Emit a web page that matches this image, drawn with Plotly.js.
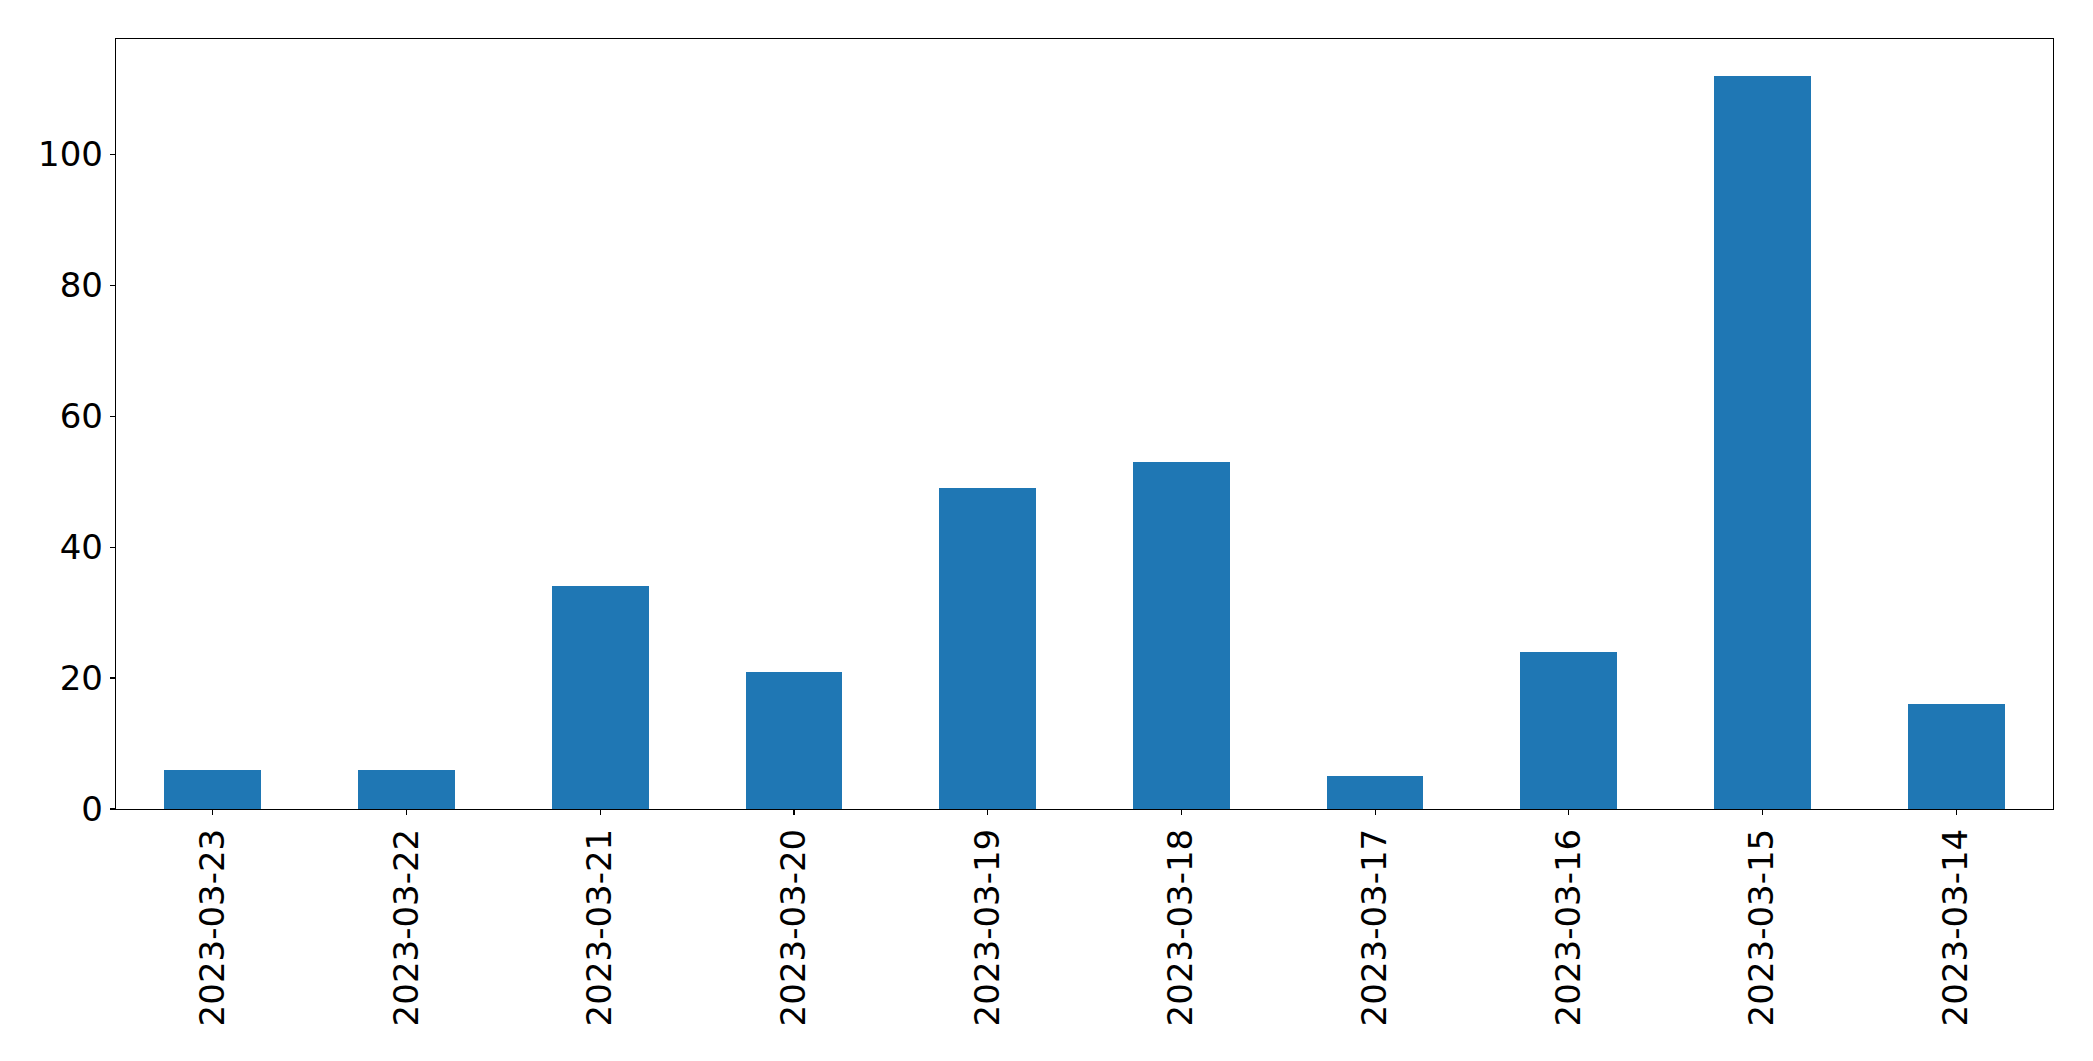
<!DOCTYPE html>
<html>
<head>
<meta charset="utf-8">
<script src="https://cdn.plot.ly/plotly-3.0.1.min.js"></script>
<style>html,body{margin:0;padding:0;background:#fff;}#chart{width:2093px;height:1061px;}</style>
</head>
<body>
<div id="chart"></div>
<script>
const dates = ["2023-03-23","2023-03-22","2023-03-21","2023-03-20","2023-03-19","2023-03-18","2023-03-17","2023-03-16","2023-03-15","2023-03-14"];
const counts = [6, 6, 34, 21, 49, 53, 5, 24, 112, 16];
const yTicks = [0, 20, 40, 60, 80, 100];

const trace = {
  type: 'bar',
  x: dates,
  y: counts,
  width: 0.5,
  marker: {color: '#1f77b4', line: {width: 0}},
  hoverinfo: 'x+y'
};
const layout = {
  width: 2093, height: 1061,
  margin: {l: 116, r: 40, t: 39, b: 252, pad: 0},
  paper_bgcolor: '#ffffff', plot_bgcolor: '#ffffff',
  font: {family: 'DejaVu Sans', size: 34, color: '#000'},
  showlegend: false,
  bargap: 0,
  xaxis: {
    type: 'category',
    range: [-0.5, dates.length - 0.5],
    showgrid: false, zeroline: false,
    showline: true, linecolor: '#000', linewidth: 1.2, mirror: true,
    ticks: 'outside', ticklen: 5, tickwidth: 1.1, tickcolor: '#000',
    tickangle: -90,
    tickfont: {family: 'DejaVu Sans', size: 34, color: '#000'}
  },
  yaxis: {
    range: [0, Math.max(...counts) * 1.05],
    tickmode: 'array', tickvals: yTicks, ticktext: yTicks.map(String),
    showgrid: false, zeroline: false,
    showline: true, linecolor: '#000', linewidth: 1.2, mirror: true,
    ticks: 'outside', ticklen: 5, tickwidth: 1.1, tickcolor: '#000',
    tickfont: {family: 'DejaVu Sans', size: 34, color: '#000'}
  }
};
Plotly.newPlot('chart', [trace], layout, {displayModeBar: false, staticPlot: true});
</script>
</body>
</html>
